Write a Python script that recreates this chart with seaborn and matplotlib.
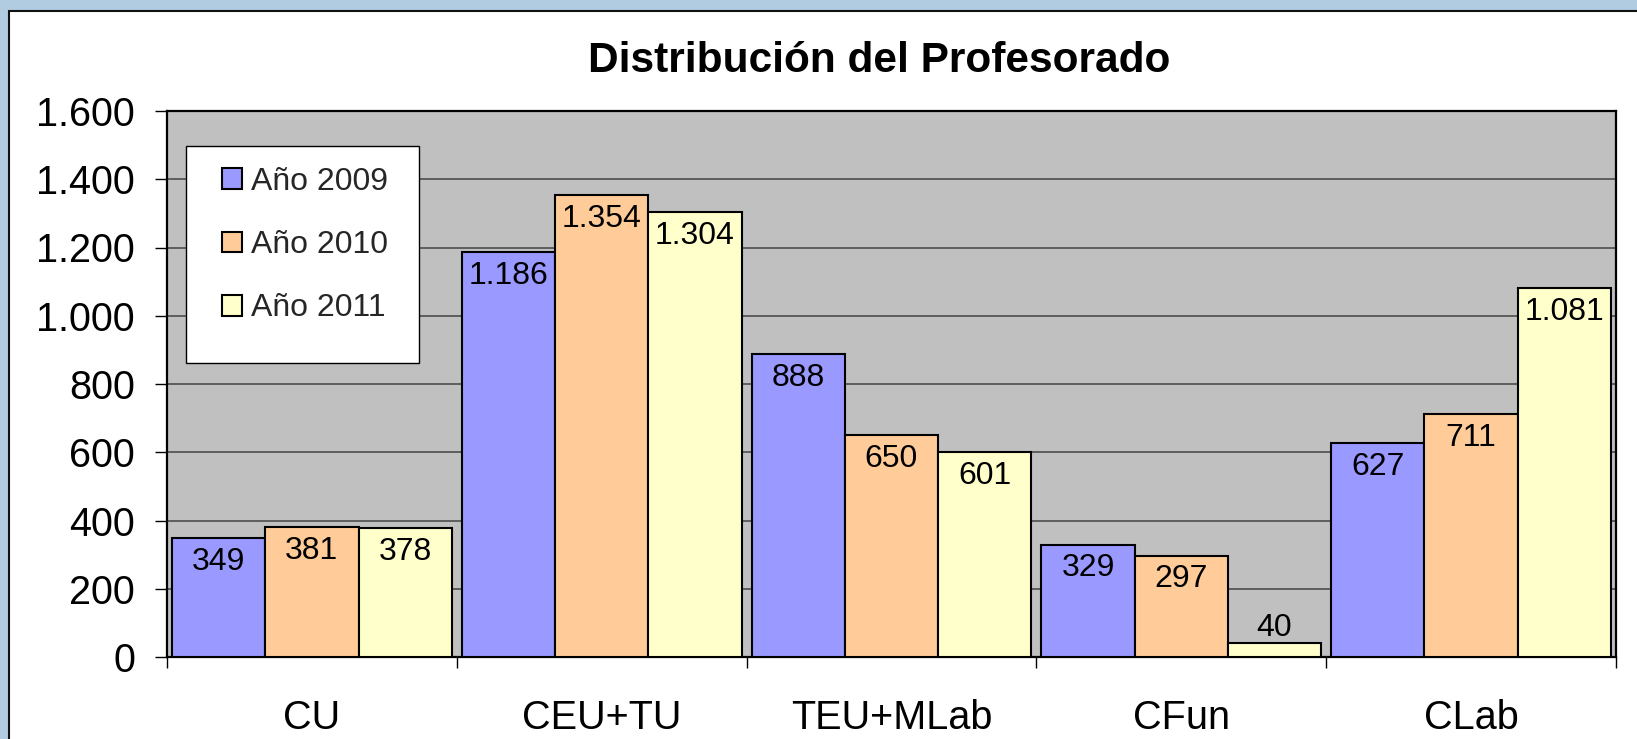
import matplotlib
matplotlib.use("Agg")
import matplotlib.pyplot as plt
import matplotlib.patches as mpatches
import seaborn as sns
import pandas as pd

categories = ["CU", "CEU+TU", "TEU+MLab", "CFun", "CLab"]
years = ["Año 2009", "Año 2010", "Año 2011"]
v2009 = [349, 1186, 888, 329, 627]
v2010 = [381, 1354, 650, 297, 711]
v2011 = [378, 1304, 601, 40, 1081]
yticks = [0, 200, 400, 600, 800, 1000, 1200, 1400, 1600]
colors = ["#9999FF", "#FFCC99", "#FFFFCC"]
title = "Distribución del Profesorado"

series = [v2009, v2010, v2011]
rows = []
for yr, vals in zip(years, series):
    for c, v in zip(categories, vals):
        rows.append({"cat": c, "year": yr, "val": v})
df = pd.DataFrame(rows)

sns.set_theme(style="white")
plt.rcParams["font.family"] = ["Liberation Sans", "DejaVu Sans"]

W, H = 1637, 739
fig = plt.figure(figsize=(W / 100, H / 100), dpi=100)
fig.patch.set_facecolor("#B1CCE1")

# white chart area with black border on left/top
fig.patches.append(mpatches.Rectangle((9 / W, -0.05), 1.1, (H - 11) / H + 0.05,
                                      transform=fig.transFigure, facecolor="white",
                                      edgecolor="#111111", linewidth=1.5, zorder=-5))

L, R, T, B = 167, 1616, 111, 657
ax = fig.add_axes([L / W, (H - B) / H, (R - L) / W, (B - T) / H])
ax.set_zorder(2)
ax.set_facecolor("#C0C0C0")

sns.barplot(data=df, x="cat", y="val", hue="year", palette=colors, width=0.965,
            gap=0, edgecolor="black", linewidth=1.5, saturation=1, ax=ax, zorder=3,
            legend=True)

ax.set_ylim(0, 1600)
ax.set_xlim(-0.5, len(categories) - 0.5)
ax.set_yticks(yticks)
ax.set_yticklabels([f"{t:,}".replace(",", ".") for t in yticks])
ax.yaxis.grid(True, color="#444444", linewidth=1.1, zorder=1)
ax.set_axisbelow(True)

# x ticks at category boundaries, labels at centers
ax.set_xticks([i - 0.5 for i in range(len(categories) + 1)])
ax.set_xticklabels([])
ax.set_xticks(range(len(categories)), minor=True)
ax.set_xticklabels(categories, minor=True)
ax.tick_params(axis="x", which="major", direction="out", length=8, width=1, color="black", bottom=True)
ax.tick_params(axis="x", which="minor", length=0, pad=30, labelsize=28.5)
ax.tick_params(axis="y", direction="out", length=9, width=1, color="black", left=True,
               pad=14, labelsize=28.5)
for lbl in ax.get_yticklabels() + ax.get_xticklabels(minor=True):
    lbl.set_color("black")

for s in ax.spines.values():
    s.set_visible(True)
    s.set_color("black")
    s.set_linewidth(1.6)

ax.set_xlabel("")
ax.set_ylabel("")

# data labels
for cont, vals in zip(ax.containers, series):
    for bar, v in zip(cont, vals):
        x = bar.get_x() + bar.get_width() / 2
        txt = f"{v:,}".replace(",", ".")
        off = 11 if v < 100 else -17
        ax.annotate(txt, (x, v), xytext=(0, off), textcoords="offset points",
                    ha="center", va="center", fontsize=23, color="black", zorder=5)

# legend frame drawn as a box, legend entries on top
def fx(px):
    return px / W

def fy(py):
    return 1 - py / H

ax.add_patch(mpatches.Rectangle((fx(186), fy(363)), fx(419) - fx(186), fy(146) - fy(363),
                                transform=fig.transFigure, facecolor="white",
                                edgecolor="black", linewidth=1.0, zorder=6, clip_on=False))

handles, labels = ax.get_legend_handles_labels()
leg = ax.legend(handles, labels, loc="upper left",
                bbox_to_anchor=(fx(222), fy(167)), bbox_transform=fig.transFigure,
                frameon=False, fontsize=23, borderpad=0,
                labelspacing=1.04, handlelength=0.63, handleheight=0.63,
                handletextpad=0.28, borderaxespad=0)
for h in leg.legend_handles:
    h.set_edgecolor("black")
    h.set_linewidth(1.5)
leg.set_zorder(10)

fig.text(fx(879), fy(61), title, ha="center", va="center", fontsize=30.5,
         fontweight="bold", color="black")

fig.savefig("out.png", dpi=100, facecolor=fig.get_facecolor())
